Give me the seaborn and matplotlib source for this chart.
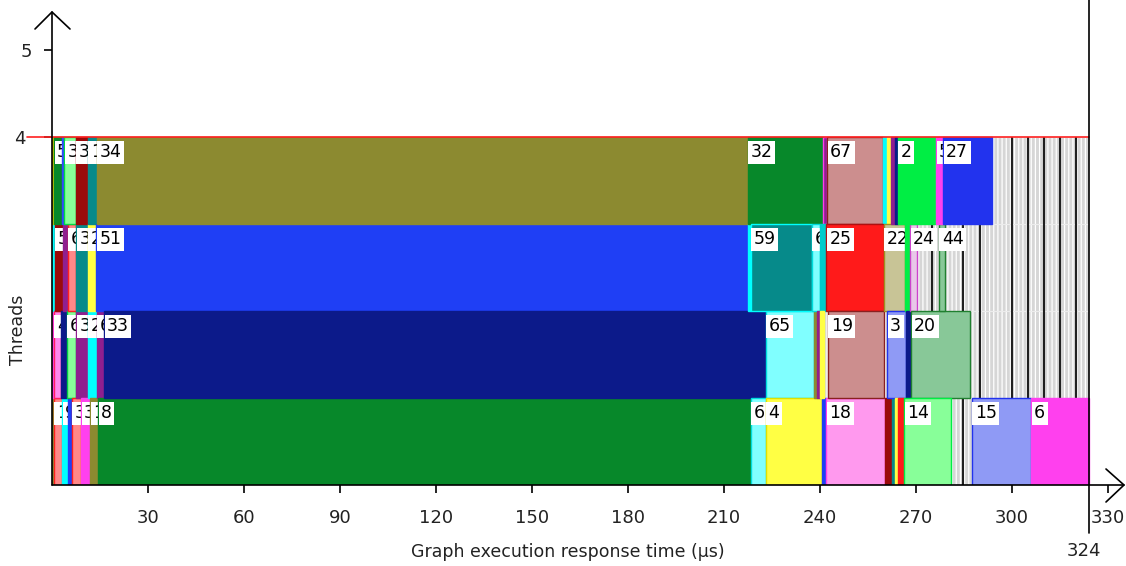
import matplotlib
matplotlib.use("Agg")
import matplotlib.pyplot as plt
import matplotlib.transforms as mtransforms
import pandas as pd
import seaborn as sns

sns.set_theme(style="white")
plt.rcParams["font.family"] = ["DejaVu Sans"]
plt.rcParams["hatch.linewidth"] = 0.9

# Each task slice: (start µs, end µs, task id, fill colour, border colour)
thread_1 = [
    (0.0, 0.6, "", "#8c8a30", None),
    (0.6, 3.2, "1", "#ff8888", "#ff2020"),
    (3.2, 5.0, "9", "#00ffff", None),
    (5.0, 6.2, "", "#1f3ff5", None),
    (6.2, 9.1, "3", "#ff8888", "#ff2020"),
    (9.1, 11.9, "3", "#ff40ee", None),
    (11.9, 14.4, "1", "#8c8a30", None),
    (14.4, 218.3, "8", "#07882a", None),
    (218.3, 223.0, "6", "#80ffff", "#00dddd"),
    (223.0, 240.6, "4", "#ffff44", "#e0e000"),
    (240.6, 242.0, "", "#1f3ff5", None),
    (242.0, 260.2, "18", "#ff99ee", "#ff40ee"),
    (260.2, 262.5, "", "#9a0a0a", None),
    (262.5, 263.5, "", "#068a8a", None),
    (263.5, 264.5, "", "#ffff44", None),
    (264.5, 266.3, "", "#ff1a1a", None),
    (266.3, 281.0, "14", "#88ff99", "#00ee44"),
    (287.5, 306.0, "15", "#8f9af5", "#2233ee"),
    (306.0, 324.0, "6", "#ff40ee", None),
]

thread_2 = [
    (0.0, 0.6, "", "#ff40ee", None),
    (0.6, 2.8, "4", "#ff88ee", "#ff2060"),
    (2.8, 4.7, "", "#0c1a8a", None),
    (4.7, 7.6, "6", "#88ff99", "#00cc44"),
    (7.6, 11.2, "3", "#8f1f8f", None),
    (11.2, 14.0, "2", "#00ffff", None),
    (14.0, 16.3, "6", "#8f1f8f", None),
    (16.3, 223.0, "33", "#0c1a8a", None),
    (223.0, 238.0, "65", "#80ffff", "#00dddd"),
    (238.0, 239.0, "", "#8c8a30", None),
    (239.0, 240.0, "", "#8f1f8f", None),
    (240.0, 241.2, "", "#ffff44", None),
    (242.5, 260.0, "19", "#cc8e8e", "#8a2020"),
    (261.0, 267.0, "3", "#8f9af5", "#2233ee"),
    (267.0, 268.2, "", "#0c1a8a", None),
    (268.5, 287.0, "20", "#88c898", "#208030"),
]

thread_3 = [
    (0.0, 0.9, "", "#00ffff", None),
    (0.9, 3.4, "5", "#9a0a0a", None),
    (3.4, 5.0, "", "#8f1f8f", None),
    (5.0, 7.6, "6", "#ff8888", "#ff2020"),
    (7.6, 11.2, "3", "#068a8a", None),
    (11.2, 13.9, "2", "#ffff44", None),
    (13.9, 217.5, "51", "#1f3ff5", None),
    (217.5, 218.3, "", "#00ffff", None),
    (218.3, 237.5, "59", "#068a8a", "#00ffff"),
    (237.5, 240.0, "6", "#80ffff", "#00dddd"),
    (240.0, 242.0, "", "#00cccc", None),
    (242.0, 260.0, "25", "#ff1a1a", "#b01010"),
    (260.0, 266.5, "22", "#c8c496", "#a09020"),
    (266.5, 268.0, "", "#00ee44", None),
    (268.2, 270.2, "24", "#e8c8e8", "#cc44cc"),
    (277.2, 279.2, "44", "#88c898", "#208030"),
]

thread_4 = [
    (0.0, 0.7, "", "#c8c800", None),
    (0.7, 3.1, "5", "#07882a", None),
    (3.1, 3.9, "", "#3344ff", None),
    (3.9, 7.5, "3", "#88ff99", "#00dd44"),
    (7.5, 11.2, "3", "#9a0a0a", None),
    (11.2, 14.0, "1", "#068a8a", None),
    (14.0, 217.5, "34", "#8c8a30", None),
    (217.5, 241.0, "32", "#07882a", None),
    (241.0, 242.3, "", "#8f1f8f", "#ff40ee"),
    (242.3, 259.8, "67", "#cc8e8e", "#8a2020"),
    (259.8, 261.0, "", "#00ffff", None),
    (261.0, 262.2, "", "#ffff44", None),
    (262.2, 263.3, "", "#8f1f8f", None),
    (263.3, 264.3, "", "#0c1a8a", None),
    (264.3, 276.3, "2", "#00ee44", None),
    (276.3, 278.5, "5", "#ff40ee", None),
    (278.5, 293.8, "27", "#2233ee", None),
]

threads = [thread_1, thread_2, thread_3, thread_4]
run_end = 324.0
idle_marks = [275.0, 284.7, 290.0, 300.0, 305.0, 310.0, 315.0, 320.0]
x_ticks = [30, 60, 90, 120, 150, 180, 210, 240, 270, 300, 330]
y_ticks = [4, 5]

rows = []
for idx, slices in enumerate(threads):
    for order, (s, e, lab, fill, edge) in enumerate(slices):
        rows.append(dict(thread=idx, order=order, start=s, end=e, label=lab,
                         fill=fill, edge=edge if edge else fill))
tasks = pd.DataFrame(rows)

W, H = 1126, 566
fig = plt.figure(figsize=(W / 100, H / 100), dpi=100)
ax = fig.add_axes([52 / W, 81 / H, 1074 / W, 485 / H])
x_max = 1074 / 3.2
y_max = 485 / 87
ax.set_xlim(0, x_max)
ax.set_ylim(0, y_max)

# idle background behind every thread
ax.barh([i + 0.5 for i in range(len(threads))], run_end, left=0, height=1.0,
        color="#d6d6d6", edgecolor="white", linewidth=0, hatch="||||", zorder=1)
for i in range(len(threads)):
    ax.axhline(i + 1, 0, run_end / x_max, color="#ececec", lw=0.8, zorder=1.2)
ax.vlines(idle_marks, 0, len(threads) - 1, color="#202020", lw=1.5, zorder=1.5)
ax.vlines([m for m in idle_marks if m > 294], len(threads) - 1, len(threads),
          color="#202020", lw=1.5, zorder=1.5)

# task slices, each followed by its id label (later slices overdraw earlier labels)
for _, r in tasks.iterrows():
    z = 2 + 2 * r["order"]
    ax.barh(r["thread"] + 0.5, r["end"] - r["start"], left=r["start"], height=1.0,
            color=r["fill"], edgecolor=r["edge"], linewidth=1.0, zorder=z)
    if r["label"]:
        ax.text(r["start"] + 0.9, r["thread"] + 1 - 0.07, r["label"], ha="left", va="top",
                fontsize=12.5, color="black", zorder=z + 1,
                bbox=dict(boxstyle="square,pad=0.14", fc="white", ec="none"))

# thread count limit
ax.plot([-7.8, run_end], [4, 4], color="#ff2020", lw=1.2, clip_on=False, zorder=60)

# axes drawn as arrows
sns.despine(ax=ax, left=True, bottom=True)
ax.plot([0, 0], [0, (485 - 12) / 87], color="black", lw=1.2, clip_on=False, zorder=70)
ax.plot([-17 / 3.2, 0, 18 / 3.2], [(485 - 29) / 87, (485 - 12) / 87, (485 - 29) / 87],
        color="black", lw=1.2, clip_on=False, zorder=70)
x_tip = (1124 - 52) / 3.2
ax.plot([0, x_tip], [0, 0], color="black", lw=1.2, clip_on=False, zorder=70)
ax.plot([x_tip - 18 / 3.2, x_tip, x_tip - 18 / 3.2], [16 / 87, 0, -17 / 87],
        color="black", lw=1.2, clip_on=False, zorder=70)

# end of run marker
ax.plot([run_end, run_end], [-48 / 87, y_max], color="black", lw=1.2, clip_on=False, zorder=70)
ax.text(317.0, -0.76, "324", ha="left", va="center", fontsize=13, color="#222222")

ax.set_xticks(x_ticks)
ax.set_xticklabels([str(t) for t in x_ticks])
ax.set_yticks(y_ticks)
ax.set_yticklabels([str(t) for t in y_ticks])
ax.tick_params(axis="x", direction="out", length=6, width=1.2, color="black",
               pad=11, labelsize=13, labelcolor="#222222", bottom=True)
ax.tick_params(axis="y", direction="out", length=6, width=1.2, color="black",
               pad=8, labelsize=13, labelcolor="#222222", left=True)
ax.grid(False)
# the "4" label sits left of the limit line
lab4 = ax.get_yticklabels()[0]
lab4.set_transform(lab4.get_transform() +
                   mtransforms.ScaledTranslation(-0.07, 0, fig.dpi_scale_trans))

fig.text(568 / W, 1 - 552 / H, "Graph execution response time (µs)", ha="center",
         va="center", fontsize=12.5, color="#222222")
fig.text(18 / W, 1 - 330 / H, "Threads", ha="center", va="center", rotation=90,
         fontsize=12.5, color="#222222")

fig.savefig("out.png", dpi=100, facecolor="white")
